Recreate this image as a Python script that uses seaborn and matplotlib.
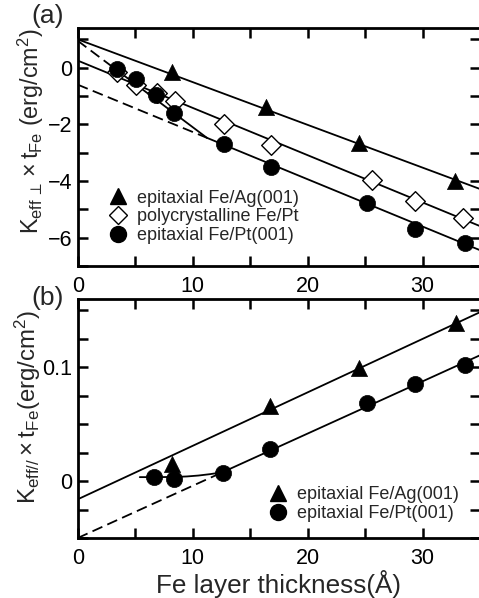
import numpy as np
import pandas as pd
import matplotlib
matplotlib.use("Agg")
import matplotlib.pyplot as plt
from matplotlib.ticker import MultipleLocator
from matplotlib.lines import Line2D
import seaborn as sns

# ---------------- data ----------------
# panel (a): K_eff_perp x t_Fe
ag_a_x = [8.2, 16.4, 24.5, 32.8]
ag_a_y = [-0.15, -1.39, -2.67, -3.99]
poly_x = [3.4, 5.1, 6.9, 8.5, 12.7, 16.8, 25.6, 29.3, 33.5]
poly_y = [-0.17, -0.62, -0.9, -1.19, -1.98, -2.74, -3.95, -4.69, -5.3]
pt_a_x = [3.4, 5.1, 6.8, 8.4, 12.7, 16.8, 25.2, 29.3, 33.7]
pt_a_y = [-0.04, -0.4, -0.95, -1.6, -2.69, -3.49, -4.78, -5.7, -6.2]

# panel (b): K_eff// x t_Fe
ag_b_x = [8.2, 16.7, 24.5, 32.9]
ag_b_y = [0.015, 0.066, 0.099, 0.139]
pt_b_x = [6.6, 8.4, 12.6, 16.7, 25.2, 29.3, 33.7]
pt_b_y = [0.0035, 0.0015, 0.0075, 0.028, 0.069, 0.085, 0.102]

# linear fits: (intercept, slope)
fit_a_ag = (1.0, -0.151)
fit_a_poly = (0.25, -0.167)
fit_a_pt_thin = (0.95, -0.305)
fit_a_pt_thick = (-0.6, -0.167)
fit_b_ag = (-0.016, 0.0047)
fit_b_pt = (-0.05, 0.00459)
# guide curve through thin Fe/Pt points in (b)
curve_b_x = [5.4, 7.0, 8.5, 9.5, 10.5, 11.5, 12.6]
curve_b_y = [0.0035, 0.0035, 0.0037, 0.0041, 0.0049, 0.0061, 0.0078]

labels_a = ["epitaxial Fe/Ag(001)", "polycrystalline Fe/Pt", "epitaxial Fe/Pt(001)"]
labels_b = ["epitaxial Fe/Ag(001)", "epitaxial Fe/Pt(001)"]
xticks = [0, 10, 20, 30]
yticks_a = [-6, -4, -2, 0]
yticks_b = [0, 0.1]
yticklabels_b = ["0", "0.1"]

# ---------------- style ----------------
sns.set_style("ticks")
plt.rcParams["font.family"] = ["Liberation Sans", "DejaVu Sans"]
plt.rcParams["mathtext.fontset"] = "custom"
plt.rcParams["mathtext.rm"] = "Liberation Sans"
plt.rcParams["mathtext.it"] = "Liberation Sans"
plt.rcParams["mathtext.bf"] = "Liberation Sans:bold"

fig = plt.figure(figsize=(4.79, 5.98), dpi=100)
axA = fig.add_axes([0.1622, 0.5552, 0.8403, 0.398])
axB = fig.add_axes([0.1622, 0.1003, 0.8403, 0.3997])

XMAX = 35.0
LW = 1.3


def seg(ax, fit, x0, x1, ls="-"):
    b, m = fit
    xs = np.array([x0, x1])
    ax.plot(xs, b + m * xs, color="black", lw=LW, ls=ls,
            dashes=(6, 3) if ls == "--" else (None, None), zorder=1)


# panel (a) lines
seg(axA, fit_a_ag, 0, XMAX)
seg(axA, fit_a_poly, 0, XMAX)
xint = (fit_a_pt_thick[0] - fit_a_pt_thin[0]) / (fit_a_pt_thin[1] - fit_a_pt_thick[1])
seg(axA, fit_a_pt_thin, 0, pt_a_x[0], "--")
seg(axA, fit_a_pt_thin, pt_a_x[0], xint)
seg(axA, fit_a_pt_thick, 0, xint, "--")
seg(axA, fit_a_pt_thick, xint, XMAX)

# panel (a) markers
dfa_ag = pd.DataFrame({"x": ag_a_x, "y": ag_a_y})
dfa_poly = pd.DataFrame({"x": poly_x, "y": poly_y})
dfa_pt = pd.DataFrame({"x": pt_a_x, "y": pt_a_y})
sns.scatterplot(data=dfa_ag, x="x", y="y", marker="^", s=135, color="black",
                edgecolor="black", linewidth=0.5, ax=axA, zorder=3)
sns.scatterplot(data=dfa_poly, x="x", y="y", marker="D", s=100, facecolor="white",
                edgecolor="black", linewidth=1.0, ax=axA, zorder=3)
sns.scatterplot(data=dfa_pt, x="x", y="y", marker="o", s=135, color="black",
                edgecolor="black", linewidth=0.5, ax=axA, zorder=4)

# panel (b) lines
seg(axB, fit_b_ag, 0, XMAX)
seg(axB, fit_b_pt, 0, curve_b_x[-1], "--")
seg(axB, fit_b_pt, curve_b_x[-1], XMAX)
axB.plot(curve_b_x, curve_b_y, color="black", lw=LW, zorder=1)

dfb_ag = pd.DataFrame({"x": ag_b_x, "y": ag_b_y})
dfb_pt = pd.DataFrame({"x": pt_b_x, "y": pt_b_y})
sns.scatterplot(data=dfb_ag, x="x", y="y", marker="^", s=135, color="black",
                edgecolor="black", linewidth=0.5, ax=axB, zorder=3)
sns.scatterplot(data=dfb_pt, x="x", y="y", marker="o", s=135, color="black",
                edgecolor="black", linewidth=0.5, ax=axB, zorder=4)

# axes formatting
for ax in (axA, axB):
    ax.set_xlim(0, XMAX)
    ax.set_xticks(xticks)
    ax.xaxis.set_minor_locator(MultipleLocator(5))
    ax.tick_params(which="both", direction="in", top=True, right=True,
                   length=7, width=1.8, labelsize=15.5, pad=7, colors="black")
    ax.tick_params(axis="y", which="both", pad=4)
    for sp in ax.spines.values():
        sp.set_linewidth(2.0)
        sp.set_color("black")
    ax.set_xlabel("")
    ax.set_ylabel("")

axA.set_ylim(-7, 1.4)
axA.set_yticks(yticks_a)
axA.yaxis.set_minor_locator(MultipleLocator(1))

axB.set_ylim(-0.05, 0.16)
axB.set_yticks(yticks_b)
axB.set_yticklabels(yticklabels_b)
axB.yaxis.set_minor_locator(MultipleLocator(0.025))

axB.set_xlabel("Fe layer thickness(Å)", fontsize=18.8, labelpad=1)

fig.text(31 / 479, 1 - 131 / 598,
         r"$\mathregular{K_{eff\,\perp}\times t_{Fe}\ (erg/cm^2)}$",
         rotation=90, ha="center", va="center", fontsize=16.8)
fig.text(28 / 479, 1 - 407 / 598,
         r"$\mathregular{K_{eff//}\times t_{Fe}(erg/cm^2)}$",
         rotation=90, ha="center", va="center", fontsize=17.3)

fig.text(48 / 479, 1 - 16 / 598, "(a)", ha="center", va="center", fontsize=19)
fig.text(48 / 479, 1 - 298 / 598, "(b)", ha="center", va="center", fontsize=19)

# legends
h_ag = Line2D([], [], ls="none", marker="^", ms=11.5, color="black")
h_poly = Line2D([], [], ls="none", marker="D", ms=9.5, mfc="white", mec="black", mew=1.0)
h_pt = Line2D([], [], ls="none", marker="o", ms=11.5, color="black")
axA.legend([h_ag, h_poly, h_pt], labels_a, loc="center left",
           bbox_to_anchor=(0.075, 0.206), frameon=False, fontsize=13,
           handlelength=1.1, handletextpad=0.5, labelspacing=0.1, borderpad=0,
           borderaxespad=0)
axB.legend([h_ag, h_pt], labels_b, loc="center left",
           bbox_to_anchor=(0.473, 0.142), frameon=False, fontsize=13,
           handlelength=1.1, handletextpad=0.5, labelspacing=0.1, borderpad=0,
           borderaxespad=0)

fig.savefig("out.png", dpi=100)
